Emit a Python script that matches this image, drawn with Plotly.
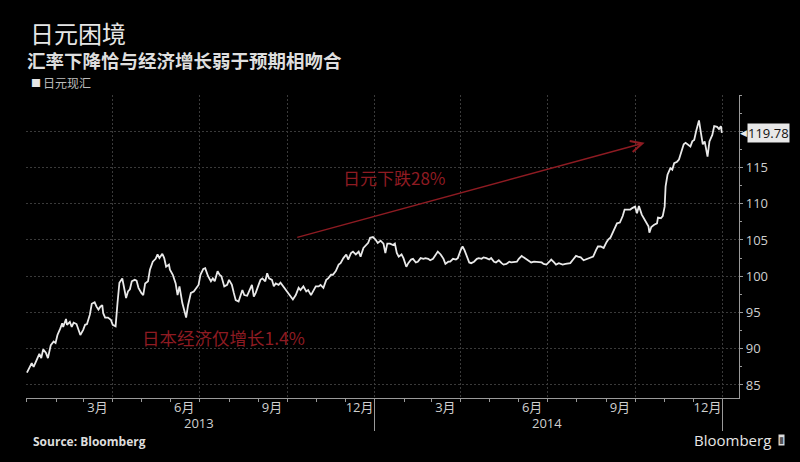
import plotly.graph_objects as go

# ---------------- data (USD/JPY spot) ----------------
dates = [
    "2013-01-01","2013-01-03","2013-01-06","2013-01-08","2013-01-11","2013-01-14","2013-01-16","2013-01-18",
    "2013-01-21","2013-01-23","2013-01-26","2013-01-29","2013-01-31","2013-02-02","2013-02-05","2013-02-07",
    "2013-02-08","2013-02-11","2013-02-12","2013-02-15","2013-02-17","2013-02-19","2013-02-22","2013-02-24",
    "2013-02-26","2013-03-01","2013-03-03","2013-03-05","2013-03-08","2013-03-10","2013-03-13","2013-03-15",
    "2013-03-17","2013-03-19","2013-03-21","2013-03-22","2013-03-24","2013-03-27","2013-03-30","2013-04-01",
    "2013-04-04","2013-04-06","2013-04-08","2013-04-11","2013-04-12","2013-04-15","2013-04-17","2013-04-19",
    "2013-04-21","2013-04-24","2013-04-26","2013-04-28","2013-05-01","2013-05-03","2013-05-05","2013-05-08",
    "2013-05-10","2013-05-13","2013-05-16","2013-05-18","2013-05-20","2013-05-23","2013-05-25","2013-05-27",
    "2013-05-30","2013-05-31","2013-06-03","2013-06-06","2013-06-08","2013-06-10","2013-06-13","2013-06-15",
    "2013-06-17","2013-06-19","2013-06-22","2013-06-25","2013-06-28","2013-06-30","2013-07-02","2013-07-05",
    "2013-07-07","2013-07-10","2013-07-13","2013-07-15","2013-07-17","2013-07-20","2013-07-22","2013-07-24",
    "2013-07-27","2013-07-30","2013-08-01","2013-08-04","2013-08-06","2013-08-08","2013-08-11","2013-08-13",
    "2013-08-15","2013-08-17","2013-08-20","2013-08-22","2013-08-25","2013-08-27","2013-08-29","2013-09-01",
    "2013-09-03","2013-09-05","2013-09-08","2013-09-10","2013-09-12","2013-09-15","2013-09-17","2013-09-19",
    "2013-09-22","2013-09-24","2013-09-27","2013-09-30","2013-10-02","2013-10-05","2013-10-07","2013-10-10",
    "2013-10-13","2013-10-15","2013-10-18","2013-10-21","2013-10-23","2013-10-26","2013-10-28","2013-10-31",
    "2013-11-03","2013-11-05","2013-11-08","2013-11-11","2013-11-13","2013-11-16","2013-11-18","2013-11-21",
    "2013-11-24","2013-11-26","2013-11-29","2013-12-02","2013-12-04","2013-12-07","2013-12-09","2013-12-12",
    "2013-12-15","2013-12-17","2013-12-20","2013-12-23","2013-12-25","2013-12-27","2013-12-30",
    "2014-01-02","2014-01-04","2014-01-07","2014-01-10","2014-01-12","2014-01-14","2014-01-17","2014-01-20",
    "2014-01-22","2014-01-24","2014-01-26","2014-01-29","2014-01-31","2014-02-03","2014-02-05","2014-02-08",
    "2014-02-10","2014-02-13","2014-02-15","2014-02-18","2014-02-21","2014-02-23","2014-02-26","2014-02-28",
    "2014-03-03","2014-03-06","2014-03-08","2014-03-11","2014-03-14","2014-03-16","2014-03-19","2014-03-21",
    "2014-03-24","2014-03-27","2014-03-29","2014-04-01","2014-04-03","2014-04-05","2014-04-08","2014-04-10",
    "2014-04-12","2014-04-15","2014-04-18","2014-04-20","2014-04-23","2014-04-25","2014-04-28","2014-05-01",
    "2014-05-03","2014-05-06","2014-05-08","2014-05-11","2014-05-14","2014-05-16","2014-05-19","2014-05-22",
    "2014-05-24","2014-05-27","2014-05-30","2014-06-01","2014-06-04","2014-06-06","2014-06-09","2014-06-12",
    "2014-06-14","2014-06-17","2014-06-19","2014-06-22","2014-06-25","2014-06-27","2014-06-30","2014-07-03",
    "2014-07-05","2014-07-08","2014-07-10","2014-07-13","2014-07-17","2014-07-20","2014-07-22","2014-07-25",
    "2014-07-28","2014-07-31","2014-08-02","2014-08-05","2014-08-08","2014-08-10","2014-08-13","2014-08-15",
    "2014-08-18","2014-08-21","2014-08-23","2014-08-26","2014-08-29","2014-09-01","2014-09-03","2014-09-05",
    "2014-09-07","2014-09-10","2014-09-12","2014-09-15","2014-09-18","2014-09-20","2014-09-23","2014-09-26",
    "2014-09-28","2014-10-01","2014-10-03","2014-10-05","2014-10-08","2014-10-10","2014-10-13","2014-10-15",
    "2014-10-16","2014-10-18","2014-10-21","2014-10-24","2014-10-25","2014-10-28","2014-10-30","2014-11-01",
    "2014-11-02","2014-11-04","2014-11-07","2014-11-09","2014-11-11","2014-11-14","2014-11-16","2014-11-18",
    "2014-11-21","2014-11-23","2014-11-25","2014-11-28","2014-11-30","2014-12-02","2014-12-04","2014-12-07",
    "2014-12-09","2014-12-11","2014-12-13","2014-12-14","2014-12-16","2014-12-18","2014-12-21","2014-12-23",
    "2014-12-26","2014-12-28","2014-12-30","2014-12-31",
]
usdjpy = [
    86.7, 87.2, 88.0, 87.5, 88.5, 89.3, 88.7, 89.9,
    89.4, 88.7, 90.5, 91.0, 90.8, 91.9, 92.8, 93.5,
    93.0, 94.1, 93.3, 93.7, 93.0, 93.6, 93.4, 92.6,
    91.9, 92.6, 93.3, 93.4, 94.7, 96.2, 96.4, 95.8,
    95.4, 95.8, 96.0, 94.9, 94.3, 94.3, 94.0, 93.3,
    93.1, 96.3, 99.1, 99.7, 99.0, 97.0, 97.9, 98.2,
    99.3, 99.5, 99.4, 98.4, 97.7, 97.4, 99.0, 99.3,
    100.9, 102.0, 102.4, 103.0, 102.5, 103.1, 102.5, 101.3,
    101.6, 100.9, 100.2, 99.0, 97.4, 98.6, 96.3, 95.1,
    94.3, 96.0, 97.7, 97.9, 98.4, 98.8, 100.2, 101.0,
    101.1, 100.0, 99.3, 99.7, 99.3, 100.7, 100.2, 100.0,
    98.6, 98.8, 99.5, 98.8, 97.7, 96.7, 96.5, 97.4,
    98.1, 97.4, 97.3, 97.9, 98.8, 97.2, 97.7, 98.8,
    99.5, 99.7, 99.3, 100.4, 99.7, 99.5, 98.6, 99.0,
    98.8, 99.1, 98.6, 98.1, 97.7, 97.2, 96.8, 97.4,
    98.4, 98.1, 98.6, 97.9, 98.1, 97.4, 97.9, 98.6,
    98.6, 98.8, 98.4, 99.5, 99.7, 100.2, 100.2, 100.7,
    101.6, 101.8, 102.5, 103.0, 102.3, 103.2, 103.4, 103.0,
    103.4, 102.7, 103.9, 104.3, 104.6, 105.3, 105.4,
    105.0, 104.6, 104.9, 104.5, 103.2, 104.5, 104.5, 104.3,
    104.5, 103.2, 102.7, 103.0, 102.5, 101.3, 101.8, 102.3,
    102.4, 101.9, 102.0, 102.5, 102.4, 102.5, 102.4, 102.2,
    102.4, 103.0, 103.4, 103.0, 102.4, 101.7, 102.0, 102.0,
    102.4, 102.3, 102.5, 103.6, 104.1, 103.6, 102.7, 101.9,
    101.8, 102.0, 102.4, 102.5, 102.4, 102.6, 102.5, 102.3,
    102.5, 102.0, 101.9, 102.2, 101.8, 101.6, 101.7, 102.0,
    101.9, 102.0, 102.0, 102.4, 102.8, 102.6, 102.3, 102.0,
    101.9, 102.0, 102.0, 101.9, 101.9, 101.7, 101.6, 102.0,
    102.3, 101.9, 101.6, 101.8, 101.6, 101.7, 101.7, 101.8,
    102.3, 102.8, 102.7, 102.6, 102.2, 102.3, 102.5, 102.5,
    102.7, 103.6, 104.1, 104.1, 103.9, 104.7, 105.1, 105.3,
    105.9, 106.6, 107.3, 107.4, 108.3, 109.2, 109.2, 109.2,
    109.4, 109.6, 108.7, 109.7, 108.5, 108.0, 107.3, 106.9,
    106.0, 106.8, 107.1, 107.3, 108.1, 108.0, 108.3, 109.6,
    112.4, 114.0, 114.9, 114.7, 115.6, 115.8, 116.1, 117.0,
    118.2, 118.4, 118.2, 117.9, 118.6, 118.8, 120.0, 121.5,
    119.8, 118.2, 118.6, 117.7, 116.5, 118.6, 119.5, 120.7,
    120.6, 120.3, 120.7, 119.78,
]

last_value = usdjpy[-1]

quarter_starts = ["2013-01-01", "2013-04-01", "2013-07-01", "2013-10-01", "2014-01-01",
                  "2014-04-01", "2014-07-01", "2014-10-01", "2015-01-01"]
month_label_dates = ["2013-03-16", "2013-06-15", "2013-09-15", "2013-12-16",
                     "2014-03-16", "2014-06-15", "2014-09-15", "2014-12-16"]
month_labels = ["3月", "6月", "9月", "12月", "3月", "6月", "9月", "12月"]
year_sep_dates = ["2014-01-01", "2015-01-01"]
year_label_dates = ["2013-07-01", "2014-07-01"]
year_labels = ["2013", "2014"]
y_ticks = [85, 90, 95, 100, 105, 110, 115, 120]
# the 120 label sits under the last-value tag, so it is left blank
y_ticklabels = ["85", "90", "95", "100", "105", "110", "115", ""]

title = "日元困境"
subtitle = "汇率下降恰与经济增长弱于预期相吻合"
legend_label = "日元现汇"
note_drop = "日元下跌28%"
note_gdp = "日本经济仅增长1.4%"
arrow_from = ("2013-10-10", 105.3)
arrow_to = ("2014-10-11", 118.4)
note_drop_pos = ("2014-01-22", 113.6)
note_gdp_pos = ("2013-07-26", 91.5)

# ---------------- layout geometry ----------------
W, H = 800, 462
L, R, T, B = 26, 739, 95, 398


def px(x):
    return (x - L) / (R - L)


def py(y):
    return (B - y) / (B - T)


FONT = "Open Sans, Noto Sans CJK SC, sans-serif"
CJK = "Noto Sans CJK SC, sans-serif"
RED = "#8e1b22"
GRID = "#3a3a3a"
GRIDDASH = "2px,2px"
AX = "#9a9a9a"
TXT = "#cfcfcf"
TAG = "#e8e8e8"
X_RANGE = ["2012-12-31", "2015-01-18"]

fig = go.Figure()
fig.add_trace(go.Scatter(
    x=dates, y=usdjpy, mode="lines",
    line=dict(color="#e9e9e9", width=1.8),
    showlegend=False, hoverinfo="x+y",
))
# helper traces so that overlay axes are drawn
for ax in ("x2", "x3"):
    fig.add_trace(go.Scatter(x=[dates[0], dates[-1]], y=[usdjpy[0], usdjpy[-1]],
                             mode="none", xaxis=ax, showlegend=False, hoverinfo="skip"))

fig.update_layout(
    width=W, height=H,
    paper_bgcolor="black", plot_bgcolor="black",
    margin=dict(l=L, r=W - R, t=T, b=H - B),
    font=dict(family=FONT, color=TXT, size=13),
    showlegend=False,
    xaxis=dict(
        type="date", range=X_RANGE,
        tickmode="array", tickvals=quarter_starts, showticklabels=False,
        showgrid=True, gridcolor=GRID, griddash=GRIDDASH, gridwidth=1,
        ticks="outside", ticklen=3, tickcolor=AX,
        minor=dict(dtick="M1", tick0="2013-01-01", ticks="outside", ticklen=3,
                   tickcolor=AX, showgrid=False),
        showline=True, linecolor=AX, linewidth=1.3, zeroline=False,
    ),
    xaxis2=dict(
        type="date", overlaying="x", matches="x", side="bottom", anchor="y",
        tickmode="array", tickvals=month_label_dates, ticktext=month_labels,
        ticks="", showgrid=False, showline=False, zeroline=False,
        tickfont=dict(family=FONT, size=13, color=TXT),
    ),
    xaxis3=dict(
        type="date", overlaying="x", matches="x", side="bottom", anchor="y",
        tickmode="array", tickvals=year_sep_dates, showticklabels=False,
        ticks="outside", ticklen=32, tickcolor=AX, tickwidth=1,
        showgrid=False, showline=False, zeroline=False,
    ),
    yaxis=dict(
        side="right", range=[83.2, 125],
        tickmode="array", tickvals=y_ticks, ticktext=y_ticklabels,
        showgrid=True, gridcolor=GRID, griddash=GRIDDASH, gridwidth=1,
        ticks="outside", ticklen=3, tickcolor=AX,
        minor=dict(dtick=2.5, tick0=85, ticks="outside", ticklen=2, tickcolor=AX, showgrid=False),
        showline=True, linecolor=AX, linewidth=1.3, zeroline=False,
        tickfont=dict(family=FONT, size=13, color=TXT),
    ),
)

ann = []
# titles
ann.append(dict(text=title, x=px(28), y=py(33), xref="paper", yref="paper",
                xanchor="left", yanchor="middle", showarrow=False,
                font=dict(family=CJK, size=24, color="#e6e6e6")))
ann.append(dict(text="<b>" + subtitle + "</b>", x=px(25), y=py(60.5), xref="paper", yref="paper",
                xanchor="left", yanchor="middle", showarrow=False,
                font=dict(family=CJK, size=18.5, color="#dedede")))
ann.append(dict(text="■", x=px(29), y=py(83), xref="paper", yref="paper",
                xanchor="left", yanchor="middle", showarrow=False,
                font=dict(family=FONT, size=10, color="#e6e6e6")))
ann.append(dict(text=legend_label, x=px(41), y=py(83), xref="paper", yref="paper",
                xanchor="left", yanchor="middle", showarrow=False,
                font=dict(family=CJK, size=12, color="#bdbdbd")))
# year labels
for d, t in zip(year_label_dates, year_labels):
    ann.append(dict(text=t, x=d, y=py(423), xref="x", yref="paper",
                    xanchor="center", yanchor="middle", showarrow=False,
                    font=dict(family=FONT, size=13, color=TXT)))
# last value tag: pointer + box
ann.append(dict(text="◀", x=1, y=last_value, xref="paper", yref="y", xshift=0,
                xanchor="left", yanchor="middle", showarrow=False, borderpad=0,
                font=dict(family="DejaVu Sans", size=9, color=TAG)))
ann.append(dict(text=f"{last_value:.2f}", x=1, y=last_value, xref="paper", yref="y", xshift=8,
                xanchor="left", yanchor="middle", showarrow=False, bgcolor=TAG,
                borderpad=0, font=dict(family=FONT, size=13, color="#111111")))
# red notes
ann.append(dict(text=note_drop, x=note_drop_pos[0], y=note_drop_pos[1], xref="x", yref="y",
                xanchor="center", yanchor="middle", showarrow=False,
                font=dict(family=CJK, size=17, color=RED)))
ann.append(dict(text=note_gdp, x=note_gdp_pos[0], y=note_gdp_pos[1], xref="x", yref="y",
                xanchor="center", yanchor="middle", showarrow=False,
                font=dict(family=CJK, size=17.5, color=RED)))
ann.append(dict(text="", x=arrow_to[0], y=arrow_to[1], ax=arrow_from[0], ay=arrow_from[1],
                xref="x", yref="y", axref="x", ayref="y",
                showarrow=True, arrowhead=5, arrowsize=1.6, arrowwidth=1.4, arrowcolor=RED))
# footer
ann.append(dict(text="<b>Source: Bloomberg</b>", x=px(31), y=py(441), xref="paper", yref="paper",
                xanchor="left", yanchor="middle", showarrow=False,
                font=dict(family=FONT, size=12, color="#dddddd")))
ann.append(dict(text="Bloomberg", x=px(692), y=py(440), xref="paper", yref="paper",
                xanchor="left", yanchor="middle", showarrow=False,
                font=dict(family=FONT, size=15, color="#e6e6e6")))
ann.append(dict(text="▮", x=px(778), y=py(440), xref="paper", yref="paper",
                xanchor="left", yanchor="middle", showarrow=False, bgcolor="#dddddd",
                borderpad=0, font=dict(family="DejaVu Sans", size=9, color="#555555")))

fig.update_layout(annotations=ann)
fig.write_html("out.html")
